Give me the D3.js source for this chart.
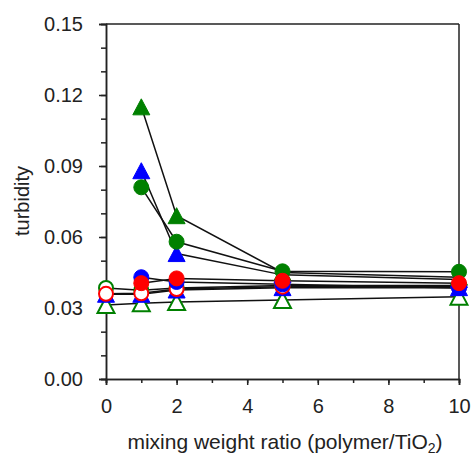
<!DOCTYPE html>
<html>
<head>
<meta charset="utf-8">
<script src="https://cdn.jsdelivr.net/npm/d3@7"></script>
<style>
body { margin: 0; background: #fff; }
text { font-family: "Liberation Sans", Arial, sans-serif; }
</style>
</head>
<body>
<svg width="472" height="457"></svg>
<script>
const svg = d3.select("svg");

// data
const ratios = [0, 1, 2, 5, 10];
const ratiosNoZero = [1, 2, 5, 10];

const greenTriFilled = [0.115, 0.069, 0.045, 0.043];
const blueTriFilled = [0.088, 0.053, 0.044, 0.042];
const greenCircFilled = [0.081, 0.058, 0.0455, 0.0453];
const blueCircFilled = [0.043, 0.041, 0.040, 0.0385];
const redCircFilled = [0.0405, 0.0425, 0.0415, 0.0405];

const greenCircOpen = [0.0385, 0.0375, 0.0385, 0.0395, 0.0395];
const blueTriSmall = [0.0358, 0.0358, 0.0376, 0.0386, 0.0386];
const redCircOpen = [0.0360, 0.0362, 0.0380, 0.0390, 0.0390];
const greenTriOpen = [0.0313, 0.0320, 0.0325, 0.0334, 0.0348];

const yTicks = [0, 0.03, 0.06, 0.09, 0.12, 0.15];
const xTicks = [0, 2, 4, 6, 8, 10];

const series = [
    {x: ratios, y: greenTriOpen, shape: "tri", color: "#008000", open: true},
    {x: ratios, y: blueTriSmall, shape: "tri", color: "#0000ff", open: false},
    {x: ratios, y: greenCircOpen, shape: "circ", color: "#008000", open: true},
    {x: ratios, y: redCircOpen, shape: "circ", color: "#ff0000", open: true},
    {x: ratiosNoZero, y: greenTriFilled, shape: "tri", color: "#008000", open: false},
    {x: ratiosNoZero, y: blueTriFilled, shape: "tri", color: "#0000ff", open: false},
    {x: ratiosNoZero, y: greenCircFilled, shape: "circ", color: "#008000", open: false},
    {x: ratiosNoZero, y: blueCircFilled, shape: "circ", color: "#0000ff", open: false},
    {x: ratiosNoZero, y: redCircFilled, shape: "circ", color: "#ff0000", open: false}
];

const x = d3.scaleLinear().domain([0, 10]).range([106, 459]);
const y = d3.scaleLinear().domain([0, 0.15]).range([379, 24]);

// frame
svg.append("line")
    .attr("x1", x(0)).attr("x2", x(10))
    .attr("y1", y(0.15)).attr("y2", y(0.15))
    .attr("stroke", "#222").attr("stroke-width", 1.5);
svg.append("line")
    .attr("x1", x(10)).attr("x2", x(10))
    .attr("y1", y(0.15)).attr("y2", y(0))
    .attr("stroke", "#222").attr("stroke-width", 1.5);

// minor ticks
const gx = svg.append("g")
    .attr("transform", "translate(0," + y(0) + ")")
    .call(d3.axisBottom(x).ticks(10).tickSize(4).tickFormat(""));
const gy = svg.append("g")
    .attr("transform", "translate(" + x(0) + ",0)")
    .call(d3.axisLeft(y).tickValues(d3.range(0, 0.151, 0.01)).tickSize(5).tickFormat(""));

// major ticks
const gx2 = svg.append("g")
    .attr("transform", "translate(0," + y(0) + ")")
    .call(d3.axisBottom(x).tickValues(xTicks).tickSize(6).tickPadding(16).tickFormat(d3.format("d")));
const gy2 = svg.append("g")
    .attr("transform", "translate(" + x(0) + ",0)")
    .call(d3.axisLeft(y).tickValues(yTicks).tickSize(7).tickPadding(16).tickFormat(d3.format(".2f")));

[gx, gy, gx2, gy2].forEach(function(g) {
    g.select(".domain").attr("stroke", "#222").attr("stroke-width", 1.5);
    g.selectAll(".tick line").attr("stroke", "#222").attr("stroke-width", 1.5);
    g.selectAll("text").attr("font-size", 20).attr("fill", "#222")
        .style("font-family", "'Liberation Sans', Arial, sans-serif");
});
gx2.selectAll("text").attr("dy", "0.6em");

// lines
const line = d3.line().x(d => x(d[0])).y(d => y(d[1]));
series.forEach(function(s) {
    svg.append("path")
        .datum(s.x.map((v, i) => [v, s.y[i]]))
        .attr("d", line)
        .attr("fill", "none")
        .attr("stroke", "#111")
        .attr("stroke-width", 1.5);
});

// markers
function triPath(cx, cy) {
    const w = 8.5, h = 8;
    return "M" + cx + "," + (cy - h) + "L" + (cx + w) + "," + (cy + h) + "L" + (cx - w) + "," + (cy + h) + "Z";
}

series.forEach(function(s) {
    const pts = s.x.map((v, i) => [v, s.y[i]]);
    if (s.shape == "circ") {
        svg.append("g").selectAll("circle")
            .data(pts)
            .enter()
            .append("circle")
            .attr("cx", d => x(d[0]))
            .attr("cy", d => y(d[1]))
            .attr("r", s.open ? 7 : 7.5)
            .attr("fill", s.open ? "#fff" : s.color)
            .attr("stroke", s.color)
            .attr("stroke-width", s.open ? 2 : 1);
    } else {
        svg.append("g").selectAll("path")
            .data(pts)
            .enter()
            .append("path")
            .attr("d", d => triPath(x(d[0]), y(d[1])))
            .attr("fill", s.open ? "#fff" : s.color)
            .attr("stroke", s.color)
            .attr("stroke-width", s.open ? 2 : 1);
    }
});

// axis titles
const xt = svg.append("text")
    .attr("x", 285)
    .attr("y", 449)
    .attr("text-anchor", "middle")
    .attr("font-size", 21)
    .attr("fill", "#222");
xt.append("tspan").text("mixing weight ratio (polymer/TiO");
xt.append("tspan").attr("font-size", 14).attr("dy", 4).text("2");
xt.append("tspan").attr("dy", -4).text(")");

svg.append("text")
    .attr("transform", "translate(29,201) rotate(-90)")
    .attr("text-anchor", "middle")
    .attr("font-size", 20)
    .attr("fill", "#222")
    .text("turbidity");
</script>
</body>
</html>
